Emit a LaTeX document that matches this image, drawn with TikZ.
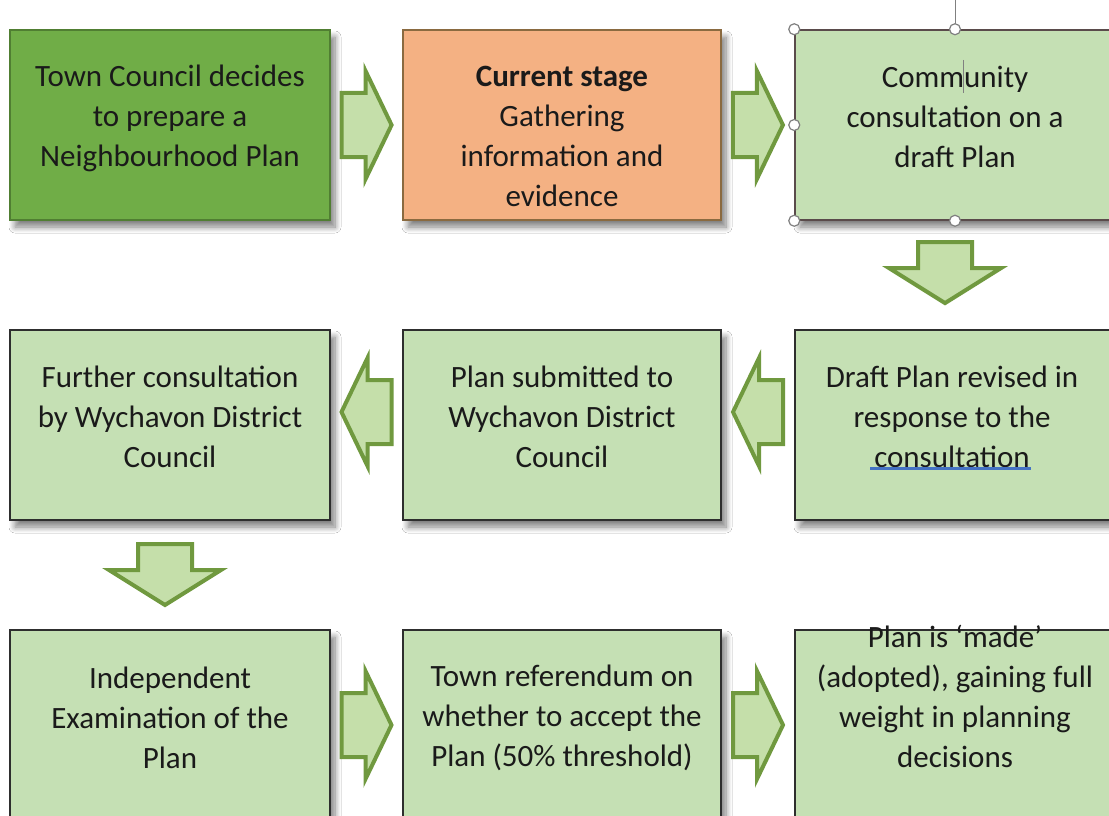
\documentclass[tikz,border=0pt]{standalone}
\usepackage{fontspec}
\setmainfont{Carlito}
\usetikzlibrary{calc,shadows.blur}
\definecolor{dkgreen}{HTML}{70AD47}
\definecolor{dkgreenline}{HTML}{507E32}
\definecolor{orangefill}{HTML}{F4B183}
\definecolor{orangeline}{HTML}{8A6A40}
\definecolor{ltgreen}{HTML}{C5E0B4}
\definecolor{boxline}{HTML}{2E2E2E}
\definecolor{selline}{HTML}{5A4B4B}
\definecolor{arrline}{HTML}{70993F}
\definecolor{arrfill}{HTML}{C5DFAA}
\definecolor{txtcol}{HTML}{1A1A1A}
\definecolor{uline}{HTML}{4472C4}
\begin{document}
\begin{tikzpicture}[x=1pt,y=-1pt,
  box/.style={rectangle, draw=boxline, line width=1.2pt, fill=ltgreen,
    minimum width=320pt, minimum height=190pt, inner sep=0pt,
    blur shadow={shadow xshift=5pt, shadow yshift=-7pt, shadow opacity=50, shadow blur steps=8, shadow blur radius=6pt}},
  txt/.style={align=center, font=\fontsize{31}{40}\selectfont, text=txtcol, inner sep=0pt},
  arr/.style={draw=arrline, fill=arrfill, line width=4pt, line join=miter},
  handle/.style={circle, draw=gray, fill=white, line width=1.2pt, minimum size=11pt, inner sep=0pt},
  rarrow/.pic={\draw[arr] (-25,-32) -- (-1,-32) -- (-1,-54) -- (25,0) -- (-1,54) -- (-1,32) -- (-25,32) -- cycle;},
  larrow/.pic={\draw[arr] (25,-32) -- (1,-32) -- (1,-54) -- (-25,0) -- (1,54) -- (1,32) -- (25,32) -- cycle;},
  darrow/.pic={\draw[arr] (-27,-30) -- (27,-30) -- (27,-4) -- (56,-4) -- (0,31) -- (-56,-4) -- (-27,-4) -- cycle;}
]
\useasboundingbox (0,0) rectangle (1109,816);
\clip (0,0) rectangle (1109,816);
\fill[white] (0,0) rectangle (1109,816);

% boxes
\node[box, fill=dkgreen, draw=dkgreenline, line width=1.5pt] (b1) at (170,125) {};
\node[box, fill=orangefill, draw=orangeline, minimum width=318pt] (b2) at (562,125) {};
\node[box, draw=selline, line width=1.5pt] (b3) at (955,125) {};
\node[box] (b4) at (170,425) {};
\node[box, minimum width=318pt] (b5) at (562,425) {};
\node[box] (b6) at (955,425) {};
\node[box] (b7) at (170,725) {};
\node[box, minimum width=318pt] (b8) at (562,725) {};
\node[box] (b9) at (955,725) {};

% texts
\node[txt] (t1) at (170,118) {Town Council decides\\to prepare a\\Neighbourhood Plan};
\node[txt] (t2) at (562,136) {\textbf{Current stage}\\Gathering\\information and\\evidence};
\node[txt] (t3) at (955,117) {Community\\consultation on a\\draft Plan};
\node[txt] (t4) at (170,417) {Further consultation\\by Wychavon District\\Council};
\node[txt] (t5) at (562,417) {Plan submitted to\\Wychavon District\\Council};
\node[txt] (t6) at (952,417) {Draft Plan revised in\\response to the\\consultation};
\node[txt] (t7) at (170,718) {Independent\\Examination of the\\Plan};
\node[txt] (t8) at (562,718) {Town referendum on\\whether to accept the\\Plan (50\% threshold)};
\node[txt] (t9) at (955,696) {Plan is ‘made’\\(adopted), gaining full\\weight in planning\\decisions};

% spelling underline
\draw[uline, line width=3pt] (870,468) -- (1031,468);

% block arrows
\pic (a1) at ($(b1.east)!0.5!(b2.west)$) {rarrow};
\pic (a2) at ($(b2.east)!0.5!(b3.west)$) {rarrow};
\pic (a3) at ($(b3.south)!0.5!(b6.north)+(-10,-3)$) {darrow};
\pic (a4) at ($(b5.east)!0.5!(b6.west)+(0,-13)$) {larrow};
\pic (a5) at ($(b4.east)!0.5!(b5.west)+(0,-13)$) {larrow};
\pic (a6) at ($(b4.south)!0.5!(b7.north)+(-5,-1)$) {darrow};
\pic (a7) at ($(b7.east)!0.5!(b8.west)$) {rarrow};
\pic (a8) at ($(b8.east)!0.5!(b9.west)$) {rarrow};

% selection handles on b3
\coordinate (rot) at ($(b3.north)+(0,-30)$);
\draw[gray, line width=1pt] (b3.north) -- (rot);
\node[handle] (h1) at (b3.north west) {};
\node[handle] (h2) at (b3.north) {};
\node[handle] (h3) at (b3.west) {};
\node[handle] (h4) at (b3.south west) {};
\node[handle] (h5) at (b3.south) {};
% text cursor
\draw[gray, line width=0.8pt] (963,60) -- (963,93);
\end{tikzpicture}
\end{document}
